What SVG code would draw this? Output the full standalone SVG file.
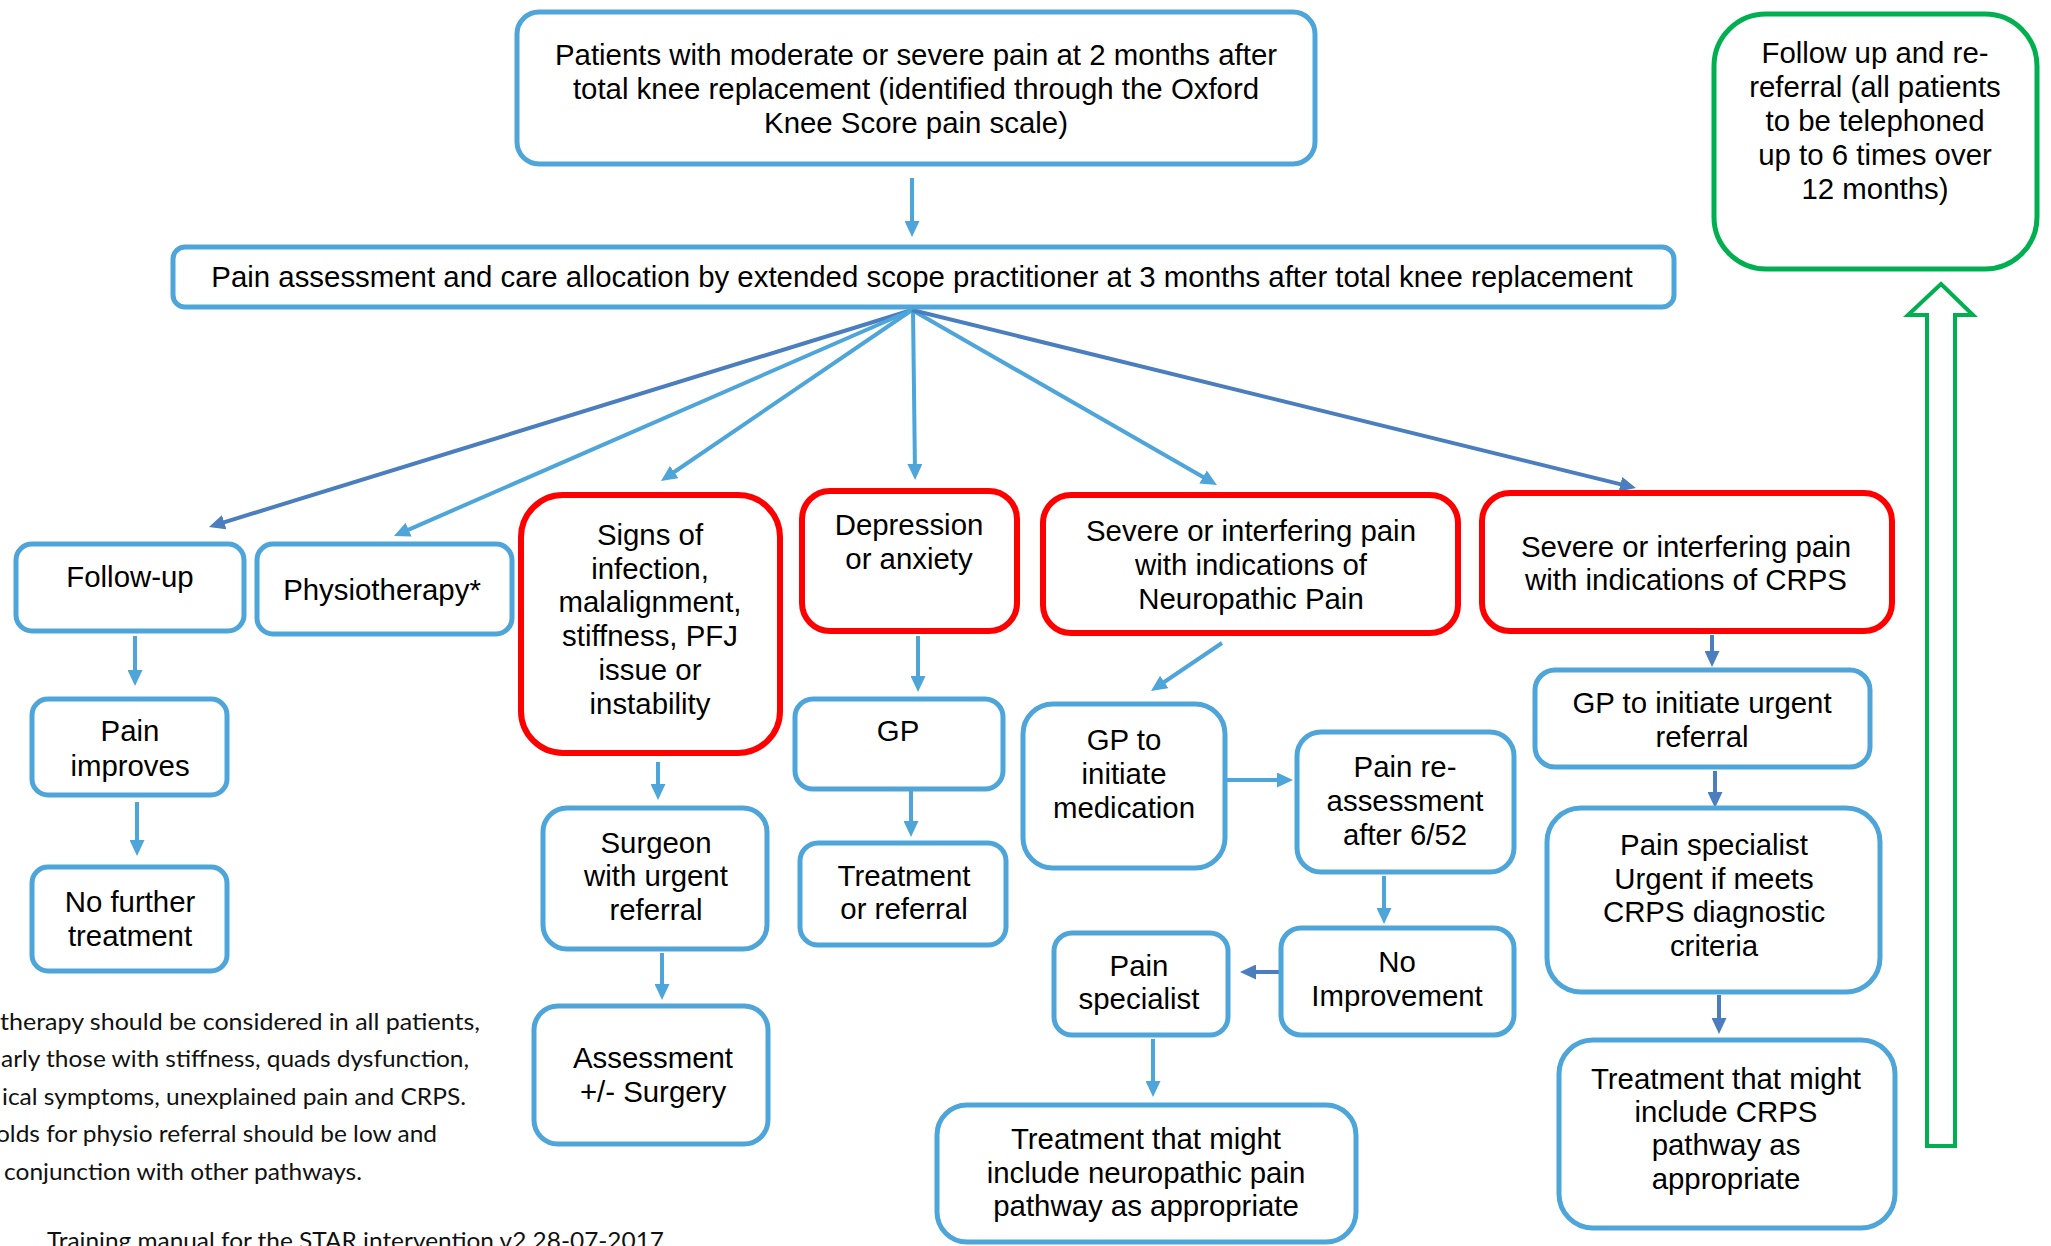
<svg xmlns="http://www.w3.org/2000/svg" width="2051" height="1246" viewBox="0 0 2051 1246">
<style>
.b{fill:#fff;stroke:#4EA5D9;stroke-width:5}
.r{fill:#fff;stroke:#FF0000;stroke-width:6}
.g{fill:#fff;stroke:#00B050;stroke-width:5}
.t{font-family:"Liberation Sans",Arial,sans-serif;font-size:29.4px;fill:#000;text-anchor:middle}
.n{font-family:Lato,"Open Sans",sans-serif;font-size:23px;fill:#111}
.c{fill:none;stroke:#4EA5D9;stroke-width:4;marker-end:url(#al)}
.d{fill:none;stroke:#4A7EBE;stroke-width:4;marker-end:url(#ad)}
</style>
<defs>
<marker id="al" viewBox="0 0 16 15" refX="8" refY="7.5" markerWidth="16" markerHeight="15" markerUnits="userSpaceOnUse" orient="auto"><path d="M0,0 L16,7.5 L0,15 z" fill="#4EA5D9"/></marker>
<marker id="ad" viewBox="0 0 16 15" refX="8" refY="7.5" markerWidth="16" markerHeight="15" markerUnits="userSpaceOnUse" orient="auto"><path d="M0,0 L16,7.5 L0,15 z" fill="#4A7EBE"/></marker>
</defs>
<rect width="2051" height="1246" fill="#fff"/>

<g id="connectors">
<path class="c" d="M912,178 L912,229"/>
<path class="d" d="M912,310 L216.6,524.6"/>
<path class="c" d="M912,310 L401.3,532.8"/>
<path class="c" d="M912,310 L667.6,476.5"/>
<path class="c" d="M913,310 L915,472"/>
<path class="c" d="M912,310 L1210,481"/>
<path class="d" d="M912,310 L1628.2,486.1"/>
<path class="c" d="M135,636 L135,678"/>
<path class="c" d="M137,802 L137,848"/>
<path class="c" d="M658,762 L658,792"/>
<path class="c" d="M662,953 L662,992"/>
<path class="c" d="M918,636 L918,684"/>
<path class="c" d="M911,789 L911,829"/>
<path class="c" d="M1222,643 L1157.6,686.5"/>
<path class="c" d="M1227,780 L1285,780"/>
<path class="c" d="M1384,876 L1384,916"/>
<path class="d" d="M1279,972 L1248,972"/>
<path class="c" d="M1153,1039 L1153,1089"/>
<path class="d" d="M1712,635 L1712,659"/>
<path class="d" d="M1715,771 L1715,800"/>
<path class="d" d="M1719,995 L1719,1026"/>
<polygon points="1941,284 1973,315 1955,315 1955,1146 1927,1146 1927,315 1908,315" fill="#fff" stroke="#00B050" stroke-width="4" stroke-linejoin="miter"/>
</g>

<g id="n-top"><rect class="b" x="517" y="12" width="798" height="152" rx="22"/>
<text class="t"><tspan x="916" y="65">Patients with moderate or severe pain at 2 months after</tspan><tspan x="916" y="99">total knee replacement (identified through the Oxford</tspan><tspan x="916" y="133">Knee Score pain scale)</tspan></text></g>

<g id="n-assess"><rect class="b" x="173" y="247" width="1501" height="60" rx="12"/>
<text class="t" x="922" y="287">Pain assessment and care allocation by extended scope practitioner at 3 months after total knee replacement</text></g>

<g id="n-follow-up-green"><rect class="g" x="1714" y="14" width="323" height="255" rx="52"/>
<text class="t"><tspan x="1875" y="63">Follow up and re-</tspan><tspan x="1875" y="97">referral (all patients</tspan><tspan x="1875" y="131">to be telephoned</tspan><tspan x="1875" y="165">up to 6 times over</tspan><tspan x="1875" y="199">12 months)</tspan></text></g>

<g id="n-followup"><rect class="b" x="16" y="544" width="228" height="87" rx="16"/>
<text class="t" x="130" y="587">Follow-up</text></g>

<g id="n-physio"><rect class="b" x="257" y="544" width="255" height="90" rx="16"/>
<text class="t" x="382" y="600">Physiotherapy*</text></g>

<g id="n-signs"><rect class="r" x="521" y="495" width="259" height="258" rx="42"/>
<text class="t"><tspan x="650" y="545">Signs of</tspan><tspan x="650" y="579">infection,</tspan><tspan x="650" y="612">malalignment,</tspan><tspan x="650" y="646">stiffness, PFJ</tspan><tspan x="650" y="680">issue or</tspan><tspan x="650" y="714">instability</tspan></text></g>

<g id="n-depression"><rect class="r" x="802" y="491" width="215" height="140" rx="28"/>
<text class="t"><tspan x="909" y="535">Depression</tspan><tspan x="909" y="569">or anxiety</tspan></text></g>

<g id="n-neuro"><rect class="r" x="1043" y="495" width="415" height="138" rx="28"/>
<text class="t"><tspan x="1251" y="541">Severe or interfering pain</tspan><tspan x="1251" y="575">with indications of</tspan><tspan x="1251" y="609">Neuropathic Pain</tspan></text></g>

<g id="n-crps"><rect class="r" x="1482" y="493" width="410" height="138" rx="28"/>
<text class="t"><tspan x="1686" y="557">Severe or interfering pain</tspan><tspan x="1686" y="590">with indications of CRPS</tspan></text></g>

<g id="n-pain-improves"><rect class="b" x="32" y="699" width="195" height="96" rx="16"/>
<text class="t"><tspan x="130" y="741">Pain</tspan><tspan x="130" y="776">improves</tspan></text></g>

<g id="n-no-further"><rect class="b" x="32" y="867" width="195" height="104" rx="16"/>
<text class="t"><tspan x="130" y="912">No further</tspan><tspan x="130" y="946">treatment</tspan></text></g>

<g id="n-surgeon"><rect class="b" x="543" y="808" width="224" height="141" rx="24"/>
<text class="t"><tspan x="656" y="853">Surgeon</tspan><tspan x="656" y="886">with urgent</tspan><tspan x="656" y="920">referral</tspan></text></g>

<g id="n-assessment"><rect class="b" x="534" y="1006" width="234" height="138" rx="24"/>
<text class="t"><tspan x="653" y="1068">Assessment</tspan><tspan x="653" y="1102">+/- Surgery</tspan></text></g>

<g id="n-gp"><rect class="b" x="795" y="699" width="208" height="90" rx="18"/>
<text class="t" x="898" y="741">GP</text></g>

<g id="n-treat-ref"><rect class="b" x="800" y="843" width="206" height="102" rx="18"/>
<text class="t"><tspan x="904" y="886">Treatment</tspan><tspan x="904" y="919">or referral</tspan></text></g>

<g id="n-gp-med"><rect class="b" x="1023" y="704" width="202" height="164" rx="30"/>
<text class="t"><tspan x="1124" y="750">GP to</tspan><tspan x="1124" y="784">initiate</tspan><tspan x="1124" y="818">medication</tspan></text></g>

<g id="n-reassess"><rect class="b" x="1297" y="732" width="217" height="140" rx="24"/>
<text class="t"><tspan x="1405" y="777">Pain re-</tspan><tspan x="1405" y="811">assessment</tspan><tspan x="1405" y="845">after 6/52</tspan></text></g>

<g id="n-no-improvement"><rect class="b" x="1281" y="928" width="233" height="107" rx="20"/>
<text class="t"><tspan x="1397" y="972">No</tspan><tspan x="1397" y="1006">Improvement</tspan></text></g>

<g id="n-pain-spec"><rect class="b" x="1054" y="933" width="174" height="102" rx="18"/>
<text class="t"><tspan x="1139" y="976">Pain</tspan><tspan x="1139" y="1009">specialist</tspan></text></g>

<g id="n-treat-neuro"><rect class="b" x="937" y="1105" width="419" height="137" rx="30"/>
<text class="t"><tspan x="1146" y="1149">Treatment that might</tspan><tspan x="1146" y="1183">include neuropathic pain</tspan><tspan x="1146" y="1216">pathway as appropriate</tspan></text></g>

<g id="n-gp-urgent"><rect class="b" x="1535" y="670" width="335" height="97" rx="20"/>
<text class="t"><tspan x="1702" y="713">GP to initiate urgent</tspan><tspan x="1702" y="747">referral</tspan></text></g>

<g id="n-pain-spec-crps"><rect class="b" x="1547" y="808" width="333" height="184" rx="34"/>
<text class="t"><tspan x="1714" y="855">Pain specialist</tspan><tspan x="1714" y="889">Urgent if meets</tspan><tspan x="1714" y="922">CRPS diagnostic</tspan><tspan x="1714" y="956">criteria</tspan></text></g>

<g id="n-treat-crps"><rect class="b" x="1559" y="1040" width="336" height="188" rx="34"/>
<text class="t"><tspan x="1726" y="1089">Treatment that might</tspan><tspan x="1726" y="1122">include CRPS</tspan><tspan x="1726" y="1155">pathway as</tspan><tspan x="1726" y="1189">appropriate</tspan></text></g>

<g id="footnote">
<text class="n" x="0" y="1030" textLength="480" lengthAdjust="spacingAndGlyphs">therapy should be considered in all patients,</text>
<text class="n" x="1" y="1067" textLength="468" lengthAdjust="spacingAndGlyphs">arly those with stiffness, quads dysfunction,</text>
<text class="n" x="2" y="1105" textLength="464" lengthAdjust="spacingAndGlyphs">ical symptoms, unexplained pain and CRPS.</text>
<text class="n" x="-4" y="1142" textLength="441" lengthAdjust="spacingAndGlyphs">olds for physio referral should be low and</text>
<text class="n" x="4" y="1180" textLength="358" lengthAdjust="spacingAndGlyphs">conjunction with other pathways.</text>
<text class="n" x="47" y="1249" textLength="617" lengthAdjust="spacingAndGlyphs">Training manual for the STAR intervention v2 28-07-2017</text>
</g>
</svg>
